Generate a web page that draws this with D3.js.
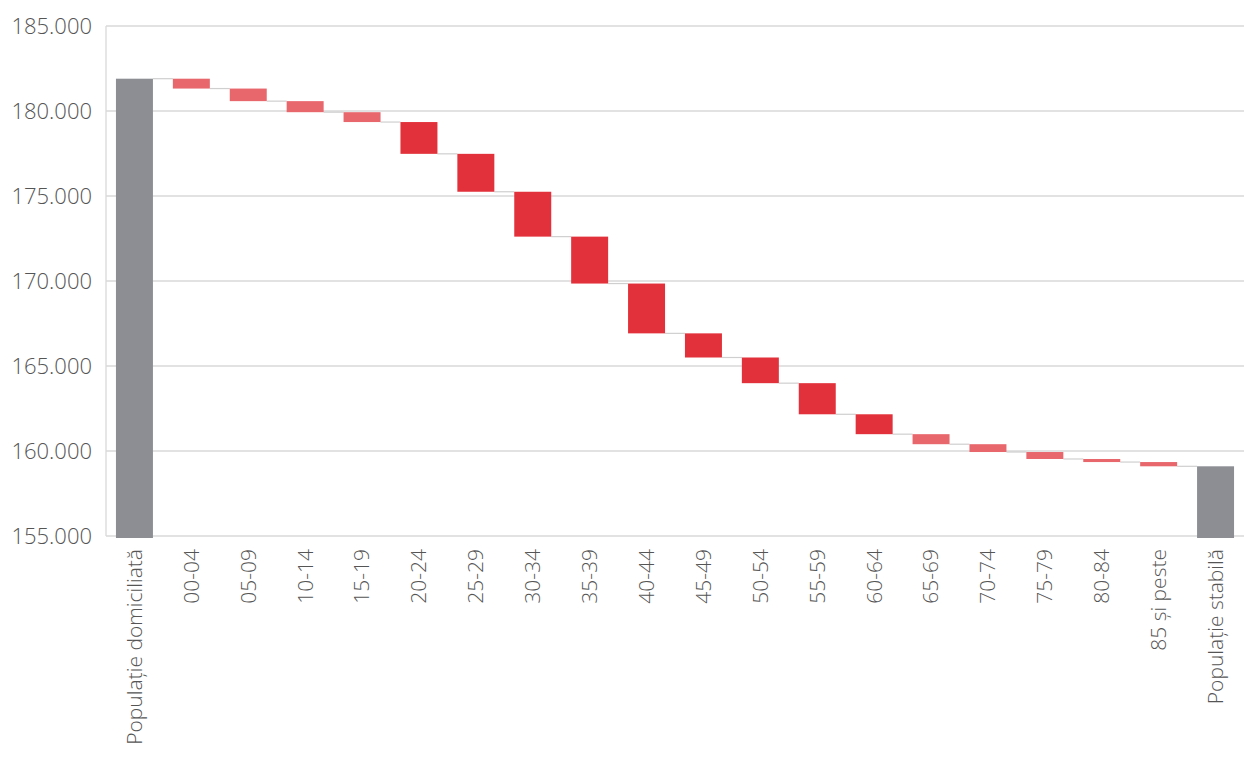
<!DOCTYPE html>
<html>
<head>
<meta charset="utf-8">
<script src="https://cdn.jsdelivr.net/npm/d3@7"></script>
<style>
  html, body { margin: 0; padding: 0; background: #ffffff; }
  svg { display: block; }
  text { font-family: "Open Sans", "Noto Sans", sans-serif; font-weight: 300; fill: #555555; }
</style>
</head>
<body>
<svg id="chart" width="1258" height="762"></svg>
<script>
// ---- data ----
const categories = ["Populație domiciliată", "00-04", "05-09", "10-14", "15-19", "20-24", "25-29",
  "30-34", "35-39", "40-44", "45-49", "50-54", "55-59", "60-64", "65-69", "70-74", "75-79",
  "80-84", "85 și peste", "Populație stabilă"];
const startTotal = 181900;
const decreases = [580, 740, 650, 580, 1870, 2230, 2640, 2760, 2930, 1420, 1510, 1830, 1170,
  590, 460, 410, 180, 250];
const yTicks = [155000, 160000, 165000, 170000, 175000, 180000, 185000];

(function () {
// ---- build waterfall rows ----
const rows = [];
let level = startTotal;
rows.push({ cat: categories[0], y0: 155000, y1: startTotal, type: "total" });
decreases.forEach((d, i) => {
  rows.push({ cat: categories[i + 1], y0: level - d, y1: level, type: d >= 1000 ? "big" : "small" });
  level -= d;
});
rows.push({ cat: categories[categories.length - 1], y0: 155000, y1: level, type: "total" });

const colors = { total: "#8c8e94", big: "#e2313a", small: "#e8676d" };

const svg = d3.select("#chart");
const pLeft = 106, pRight = 1244, pTop = 26, pBottom = 536;

const x = d3.scaleBand().domain(categories).range([pLeft, pRight]).paddingInner(0.35).paddingOuter(0.175);
const y = d3.scaleLinear().domain([155000, 185000]).range([pBottom, pTop]);

const loc = d3.formatLocale({ decimal: ",", thousands: ".", grouping: [3], currency: ["", ""] });
const fmtInt = loc.format(",");

// gridlines
svg.append("g")
  .selectAll("line").data(yTicks).join("line")
  .attr("x1", pLeft).attr("x2", pRight)
  .attr("y1", d => y(d)).attr("y2", d => y(d))
  .attr("stroke", "#d9d9d9").attr("stroke-width", 1.3);

// left axis line
svg.append("line")
  .attr("x1", pLeft).attr("x2", pLeft).attr("y1", y(185000)).attr("y2", y(155000))
  .attr("stroke", "#d9d9d9").attr("stroke-width", 1.3);

// y axis labels via d3 axis
const yAxis = d3.axisLeft(y).tickValues(yTicks).tickSize(0).tickPadding(14).tickFormat(d => fmtInt(d));
const gy = svg.append("g").attr("transform", `translate(${pLeft},0)`).call(yAxis);
gy.select(".domain").remove();
gy.attr("font-family", null).attr("font-size", null);
gy.selectAll("text").attr("font-size", 22).attr("fill", null);

// connectors
svg.append("g")
  .selectAll("line").data(rows.slice(0, -1)).join("line")
  .attr("x1", d => x(d.cat) + x.bandwidth())
  .attr("x2", (d, i) => x(rows[i + 1].cat))
  .attr("y1", d => y(d.type === "total" ? d.y1 : d.y0))
  .attr("y2", d => y(d.type === "total" ? d.y1 : d.y0))
  .attr("stroke", "#cfcfcf").attr("stroke-width", 1.2);

// bars
svg.append("g")
  .selectAll("rect").data(rows).join("rect")
  .attr("x", d => x(d.cat))
  .attr("width", x.bandwidth())
  .attr("y", d => y(d.y1))
  .attr("height", d => y(d.y0) - y(d.y1) + (d.type === "total" ? 2 : 0))
  .attr("fill", d => colors[d.type]);

// x labels
const xAxis = d3.axisBottom(x).tickSize(0).tickPadding(0);
const gx = svg.append("g").attr("transform", `translate(0,${pBottom})`).call(xAxis);
gx.select(".domain").remove();
gx.attr("font-family", null).attr("font-size", null);
gx.selectAll("text")
  .attr("font-size", 21)
  .attr("fill", null)
  .attr("text-anchor", "end")
  .attr("transform", "rotate(-90)")
  .attr("x", -13).attr("y", 0).attr("dy", "0.35em");
})();
</script>
</body>
</html>
